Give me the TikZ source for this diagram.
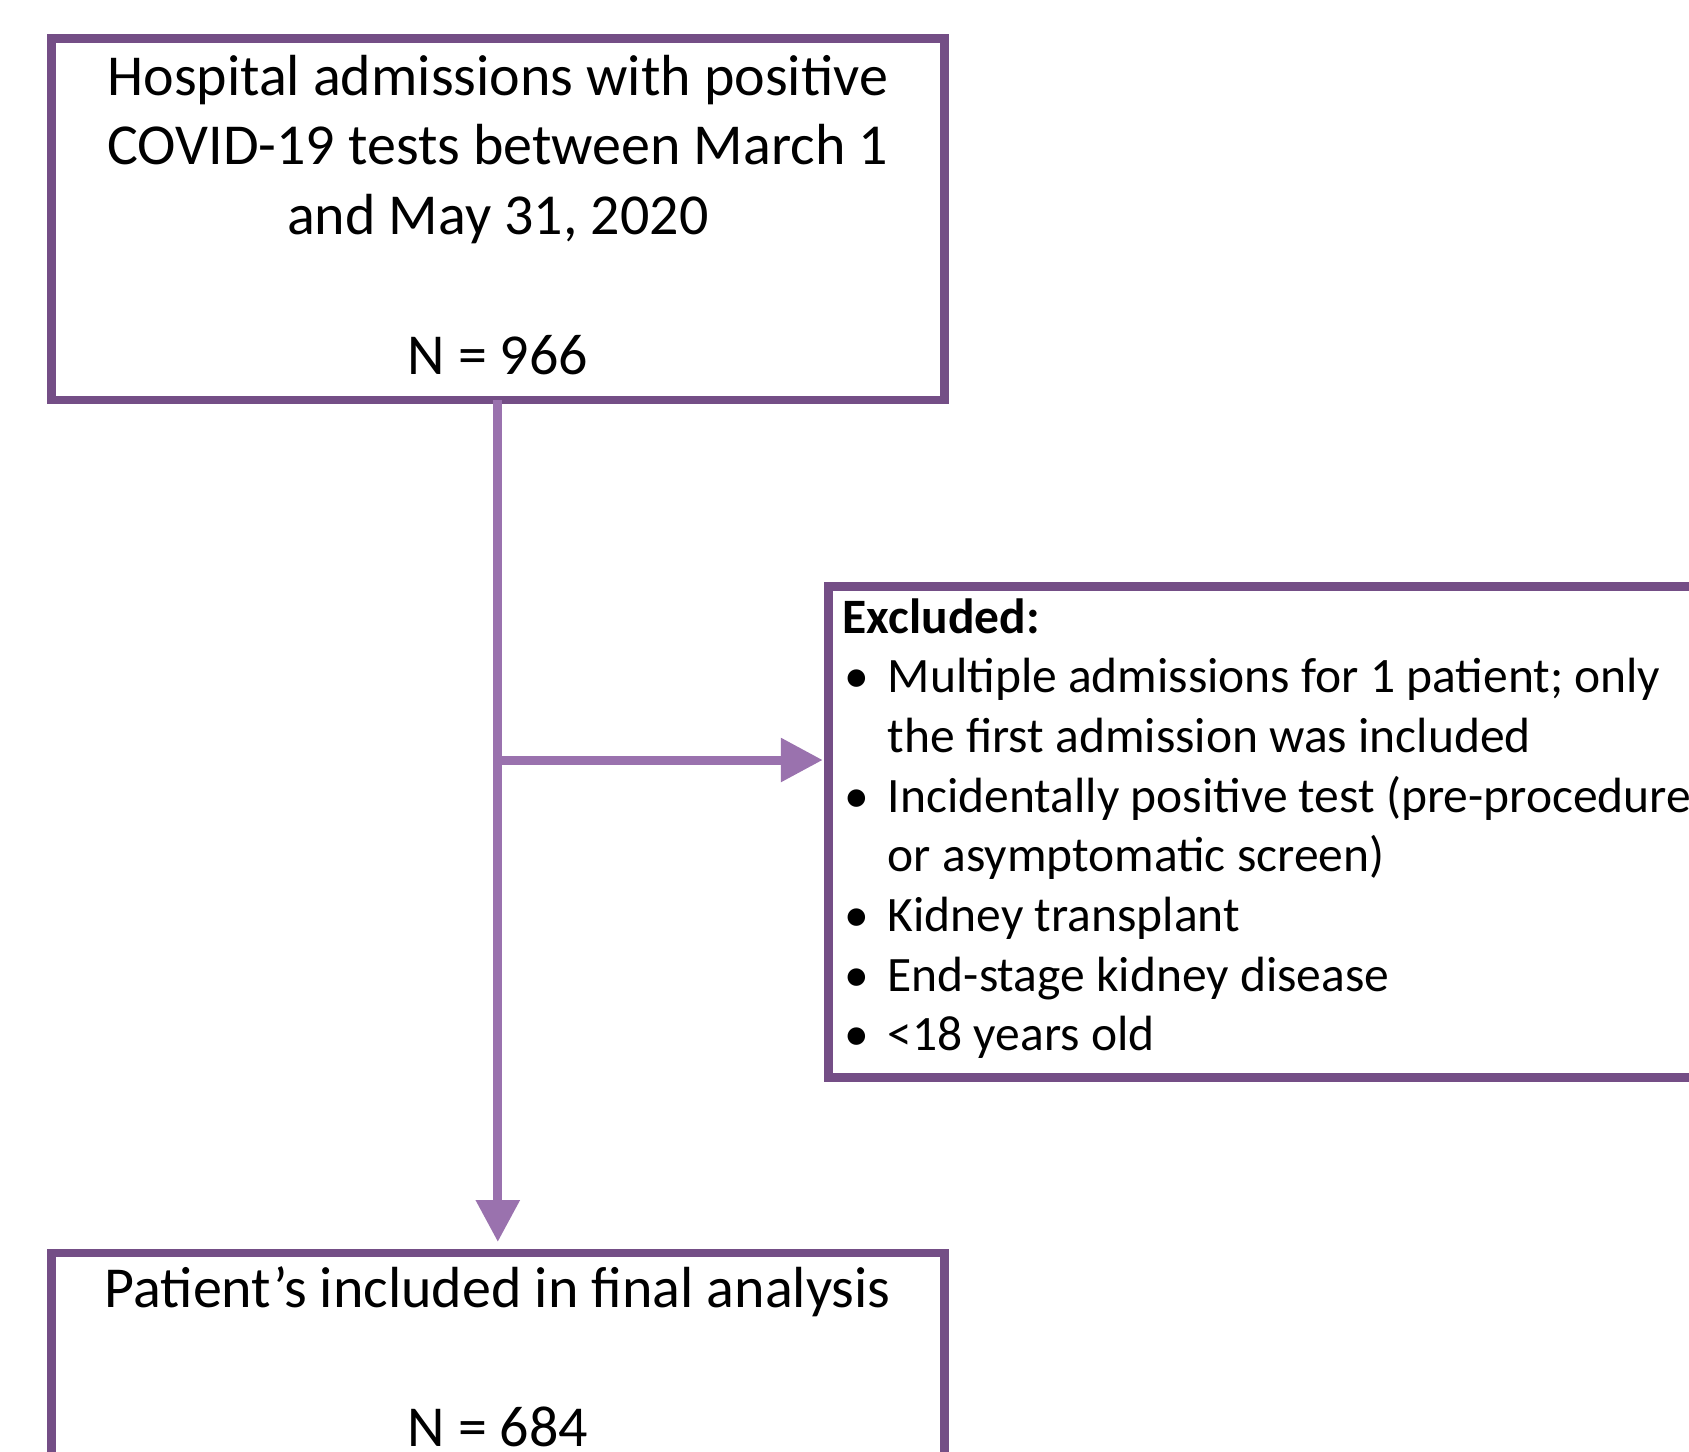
\documentclass[tikz,border=0pt]{standalone}
\usepackage{fontspec}
\setmainfont{Carlito}
\usetikzlibrary{arrows.meta}
\definecolor{boxpurple}{HTML}{744E86}
\definecolor{arrowpurple}{HTML}{9A72AE}
\newcommand{\exbullet}{\makebox[22.5bp][l]{\hspace{1bp}\textbullet}}
\newcommand{\exindent}{\hspace*{22.5bp}}
\begin{document}
\begin{tikzpicture}[>={Triangle[length=21bp,width=21bp]},line join=miter,
  flowbox/.style={draw=boxpurple,line width=4.3bp,outer sep=0pt,inner ysep=0pt,font=\fontsize{29.1}{35.1}\selectfont},
  flowarrow/.style={draw=arrowpurple,line width=4.5bp,->}]
%%
\useasboundingbox (0bp,0bp) rectangle (844.5bp,-726bp);
\node (admit) at (248.9bp,-19.15bp) [flowbox,anchor=north,align=flush center,text width=432.5bp,inner xsep=7bp,text height=28.35bp,text depth=152.5bp] {Hospital admissions with positive\\COVID-19 tests between March 1\\and May 31, 2020\\~\\N = 966};
  \node (excl) at (414.15bp,-293.15bp) [flowbox,anchor=north west,align=flush left,text width=520bp,inner xsep=7.25bp,text height=23.35bp,text depth=222.35bp,font=\fontsize{24.85}{29.95}\selectfont] {\textbf{Excluded:}\\
\exbullet Multiple admissions for 1 patient; only\\
\exindent the first admission was included\\
\exbullet Incidentally positive test (pre-procedure\\
\exindent or asymptomatic screen)\\
\exbullet Kidney transplant\\
\exbullet End-stage kidney disease\\
\exbullet <18 years old};
  \node (final) at (248.9bp,-626.5bp) [flowbox,anchor=north,align=flush center,text width=432.5bp,inner xsep=7bp,text height=27bp,text depth=152.5bp] {Patient’s included in final analysis\\~\\N = 684};
  \coordinate (split) at (248.9bp,-380bp);
%
  \draw [flowarrow,shorten >=5.5bp] (admit.south) -- (final.north);
  \draw [flowarrow,shorten >=2.75bp] (split) -- (split -| excl.west);
%
\end{tikzpicture}
\end{document}
